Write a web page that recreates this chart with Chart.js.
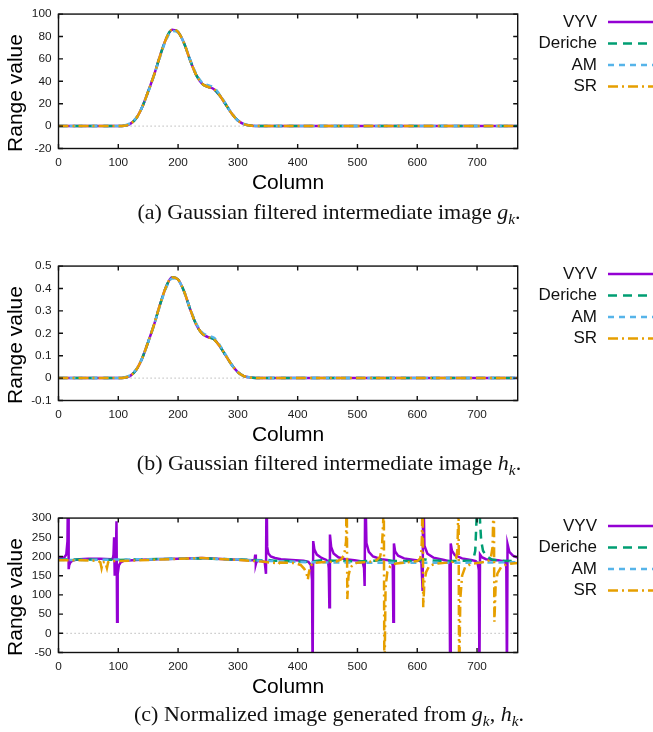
<!DOCTYPE html>
<html><head><meta charset="utf-8">
<script src="https://cdn.jsdelivr.net/npm/chart.js@4.4.1/dist/chart.umd.min.js"></script>
<style>
html,body{margin:0;padding:0;background:#fff;}
#wrap{position:relative;width:653px;height:732px;overflow:hidden;background:#fff;}
canvas{position:absolute;left:0;}
.cap{position:absolute;left:0;width:658px;text-align:center;font-family:'Liberation Serif','Times New Roman',serif;font-size:22px;line-height:24px;color:#111;white-space:nowrap;}
.cap i{font-style:italic;}
.cap sub{font-size:70%;vertical-align:-0.3em;line-height:0;}
</style></head><body>
<div id="wrap">
<canvas id="ca" width="653" height="200" style="top:0px"></canvas>
<canvas id="cb" width="653" height="200" style="top:252px"></canvas>
<canvas id="cc" width="653" height="200" style="top:504px"></canvas>
<div class="cap" style="top:200px">(a) Gaussian filtered intermediate image <i>g</i><sub><i>k</i></sub>.</div>
<div class="cap" style="top:451px">(b) Gaussian filtered intermediate image <i>h</i><sub><i>k</i></sub>.</div>
<div class="cap" style="top:702px">(c) Normalized image generated from <i>g</i><sub><i>k</i></sub>, <i>h</i><sub><i>k</i></sub>.</div>
</div>
<script>
// ---------- series names ----------
const seriesNames = ['VYV', 'Deriche', 'AM', 'SR'];

// ---------- x ticks ----------
const xTickValues = [0, 100, 200, 300, 400, 500, 600, 700];

// ---------- (a) Gaussian filtered g_k ----------
const colsAB = [0,100,110,120,130,140,150,160,170,180,190,200,210,220,230,240,250,260,270,280,290,300,310,320,330,340,768];
const vyvA = [0,0,0.3,2,7,17,31,46,63,78,86,84,74,59,46,38,35,33,27,19,11,5,1.8,0.5,0.1,0,0];
const derA = [0,0,0.3,2,7,17,31,46,63,78,86,84,74,59,46,38,35,33,27,19,11,5,1.8,0.5,0.1,0,0];
const amA  = [0,0,0.5,2.5,7.5,17,30.5,45.5,62,77,85,83.5,74,59.5,47,39,36.5,34.5,28,19.5,11,5,2,0.6,0.1,0,0];
const srA  = [0,0,0.3,2,7,17,31,46,63,78,86,84,74,59,46,38,35,33,27,19,11,5,1.8,0.5,0.1,0,0];

// ---------- (b) Gaussian filtered h_k ----------
const vyvB = [0,0,0.002,0.01,0.037,0.089,0.162,0.24,0.33,0.408,0.45,0.44,0.387,0.309,0.241,0.199,0.183,0.173,0.141,0.099,0.058,0.026,0.009,0.003,0.0005,0,0];
const derB = [0,0,0.002,0.01,0.037,0.089,0.162,0.24,0.33,0.408,0.45,0.44,0.387,0.309,0.241,0.199,0.183,0.173,0.141,0.099,0.058,0.026,0.009,0.003,0.0005,0,0];
const amB  = [0,0,0.003,0.013,0.039,0.089,0.16,0.238,0.325,0.403,0.445,0.437,0.387,0.311,0.246,0.204,0.19,0.18,0.146,0.102,0.058,0.026,0.01,0.003,0.0005,0,0];
const srB  = [0,0,0.002,0.01,0.037,0.089,0.162,0.24,0.33,0.408,0.45,0.44,0.387,0.309,0.241,0.199,0.183,0.173,0.141,0.099,0.058,0.026,0.009,0.003,0.0005,0,0];

// ---------- (c) Normalized image ----------
const vyvCcols = [0,5,10,13,15,16,17,18,20,23,27,35,50,70,88,91,92,93,94,95,96,97,98,99,101,104,110,130,160,200,240,280,310,326,328,329,330,331,333,340,345,347,348,349,351,355,362,372,390,410,418,422,424,425,426,428,432,440,448,451,452,453,454,456,460,468,480,495,505,509,511,512,513,515,519,526,540,552,557,559,560,561,563,568,578,595,604,607,609,610,612,617,627,645,652,654,655,656,658,663,675,692,698,701,703,704,705,708,715,735,744,748,749,750,751,754,760,768];
const vyvCvals = [195,196,198,205,240,400,167,178,185,189,191,193,194,194,193,195,205,250,150,178,205,292,30,155,177,185,189,191,193,194,196,193,191,190,192,205,180,186,188,188,185,155,400,225,208,200,196,193,191,189,186,178,140,-120,240,218,205,196,191,185,170,68,257,225,208,198,193,190,188,183,170,123,400,235,212,200,193,190,186,178,30,234,213,202,195,191,189,185,110,400,228,207,197,191,188,182,-120,234,215,203,195,190,188,183,165,-120,205,198,193,190,188,183,170,-120,232,212,202,197];
const derCcols = [0,50,100,150,200,240,300,340,350,360,420,430,440,460,500,530,545,560,600,610,620,650,680,690,694,697,699,700,704,705,707,710,716,725,740,768];
const derCvals = [192,192,191,193,194,195,192,190,191,189,186,188,190,189,187,189,192,188,188,193,190,188,189,189,193,215,290,350,350,290,240,215,200,192,189,188];
const amCcols = [0,50,100,160,240,300,340,380,420,500,600,700,768];
const amCvals = [191,191,192,193,195,192,189,187,185,184,184,184,185];
const srCcols = [0,40,65,70,72,74,78,81,83,90,120,200,240,300,330,345,355,365,368,370,395,405,411,415,417,419,422,426,440,465,473,478,481,482,483,485,488,493,500,520,532,538,541,543,544,545,547,550,555,565,585,600,605,607,608,609,610,612,615,620,630,650,660,665,667,668,669,670,672,675,680,690,705,718,723,726,727,728,729,731,734,740,750,768];
const srCvals = [190,190,189,185,170,185,186,170,185,188,189,194,196,191,188,186,184,183,180,184,183,178,168,155,140,160,176,183,185,187,193,205,240,420,89,150,170,180,184,186,190,200,225,290,420,-150,120,160,175,182,185,188,195,215,260,420,68,135,160,175,181,184,186,194,215,270,420,-150,90,150,172,181,184,187,196,225,300,420,30,120,155,172,180,183];

// ---------- styles ----------
const FONT = "'Liberation Sans', Arial, Helvetica, sans-serif";
const colors = ['#9400d3', '#009e73', '#56b4e9', '#e69f00'];
const dashes = [[], [9, 6], [6, 5], [10, 4, 2, 4]];
const drawOrder = [3, 2, 1, 0];

function pts(xs, ys) { return xs.map((x, i) => ({ x: x, y: ys[i] })); }

function makeDatasets(list, smooth) {
  return list.map((d, i) => ({
    label: seriesNames[i],
    data: pts(d[0], d[1]),
    borderColor: colors[i],
    borderDash: dashes[i],
    borderWidth: 2.5,
    pointRadius: 0,
    fill: false,
    tension: 0,
    cubicInterpolationMode: smooth ? 'monotone' : 'default',
    order: drawOrder[i],
    clip: 0
  }));
}

const framePlugin = {
  id: 'frame',
  beforeDatasetsDraw(chart) {
    const { ctx, chartArea: a, scales: { y } } = chart;
    const y0 = y.getPixelForValue(0);
    ctx.save();
    ctx.strokeStyle = '#a8a8a8'; ctx.lineWidth = 1; ctx.setLineDash([1.2, 2.8]);
    ctx.beginPath(); ctx.moveTo(a.left, y0); ctx.lineTo(a.right, y0); ctx.stroke();
    ctx.restore();
  },
  afterDatasetsDraw(chart) {
    const { ctx, chartArea: a, scales: { x, y } } = chart;
    ctx.save();
    ctx.strokeStyle = '#111'; ctx.lineWidth = 1.4; ctx.setLineDash([]);
    ctx.strokeRect(a.left, a.top, a.right - a.left, a.bottom - a.top);
    const L = 4.5;
    ctx.beginPath();
    x.ticks.forEach(t => {
      const p = x.getPixelForValue(t.value);
      ctx.moveTo(p, a.bottom); ctx.lineTo(p, a.bottom - L);
      ctx.moveTo(p, a.top); ctx.lineTo(p, a.top + L);
    });
    y.ticks.forEach(t => {
      const p = y.getPixelForValue(t.value);
      ctx.moveTo(a.left, p); ctx.lineTo(a.left + L, p);
      ctx.moveTo(a.right, p); ctx.lineTo(a.right - L, p);
    });
    ctx.stroke();
    ctx.restore();
  },
  afterDraw(chart) {
    const ctx = chart.ctx;
    // y-axis title
    ctx.save();
    ctx.translate(16.6, 93);
    ctx.rotate(-Math.PI / 2);
    ctx.font = '21px ' + FONT;
    ctx.textAlign = 'center'; ctx.textBaseline = 'middle'; ctx.fillStyle = '#000';
    ctx.fillText('Range value', 0, 0);
    ctx.restore();
    // legend
    const rows = [22, 43.5, 65, 86.5];
    ctx.save();
    ctx.font = '17px ' + FONT;
    ctx.textAlign = 'right'; ctx.textBaseline = 'middle'; ctx.fillStyle = '#111';
    chart.data.datasets.forEach((ds, i) => {
      ctx.fillText(ds.label, 597, rows[i]);
      ctx.strokeStyle = ds.borderColor; ctx.lineWidth = 2.5; ctx.setLineDash(ds.borderDash);
      ctx.beginPath(); ctx.moveTo(608, rows[i]); ctx.lineTo(665, rows[i]); ctx.stroke();
    });
    ctx.restore();
  }
};

function fmtTick(v) {
  if (Math.abs(v) < 1e-9) return '0';
  return String(Math.round(v * 1000) / 1000);
}

function makeOptions(ymin, ymax, ystep) {
  return {
    responsive: false, animation: false, devicePixelRatio: 1,
    layout: { padding: { left: 0, right: 135.3, top: 12, bottom: 0 } },
    plugins: { legend: { display: false }, tooltip: { enabled: false } },
    scales: {
      x: {
        type: 'linear', min: 0, max: 768,
        ticks: { stepSize: 100, color: '#1a1a1a', font: { family: FONT, size: 11.8 }, padding: 7, maxRotation: 0, autoSkip: false, callback: fmtTick },
        grid: { display: false, drawTicks: false }, border: { display: false },
        title: { display: true, text: 'Column', color: '#000', font: { family: FONT, size: 21 }, padding: { top: 0, bottom: 4 } },
        afterBuildTicks: s => { s.ticks = xTickValues.map(v => ({ value: v })); },
        afterFit: s => { s.height = 51.5; }
      },
      y: {
        min: ymin, max: ymax,
        ticks: { stepSize: ystep, color: '#1a1a1a', font: { family: FONT, size: 11.8 }, padding: 7, callback: fmtTick },
        grid: { display: false, drawTicks: false }, border: { display: false },
        title: { display: false },
        afterFit: s => { s.width = 58.5; }
      }
    }
  };
}

new Chart(document.getElementById('ca'), {
  type: 'line',
  data: { datasets: makeDatasets([[colsAB, vyvA], [colsAB, derA], [colsAB, amA], [colsAB, srA]], true) },
  options: makeOptions(-20, 100, 20),
  plugins: [framePlugin]
});
new Chart(document.getElementById('cb'), {
  type: 'line',
  data: { datasets: makeDatasets([[colsAB, vyvB], [colsAB, derB], [colsAB, amB], [colsAB, srB]], true) },
  options: makeOptions(-0.1, 0.5, 0.1),
  plugins: [framePlugin]
});
new Chart(document.getElementById('cc'), {
  type: 'line',
  data: { datasets: makeDatasets([[vyvCcols, vyvCvals], [derCcols, derCvals], [amCcols, amCvals], [srCcols, srCvals]], false) },
  options: makeOptions(-50, 300, 50),
  plugins: [framePlugin]
});
</script>
</body></html>
